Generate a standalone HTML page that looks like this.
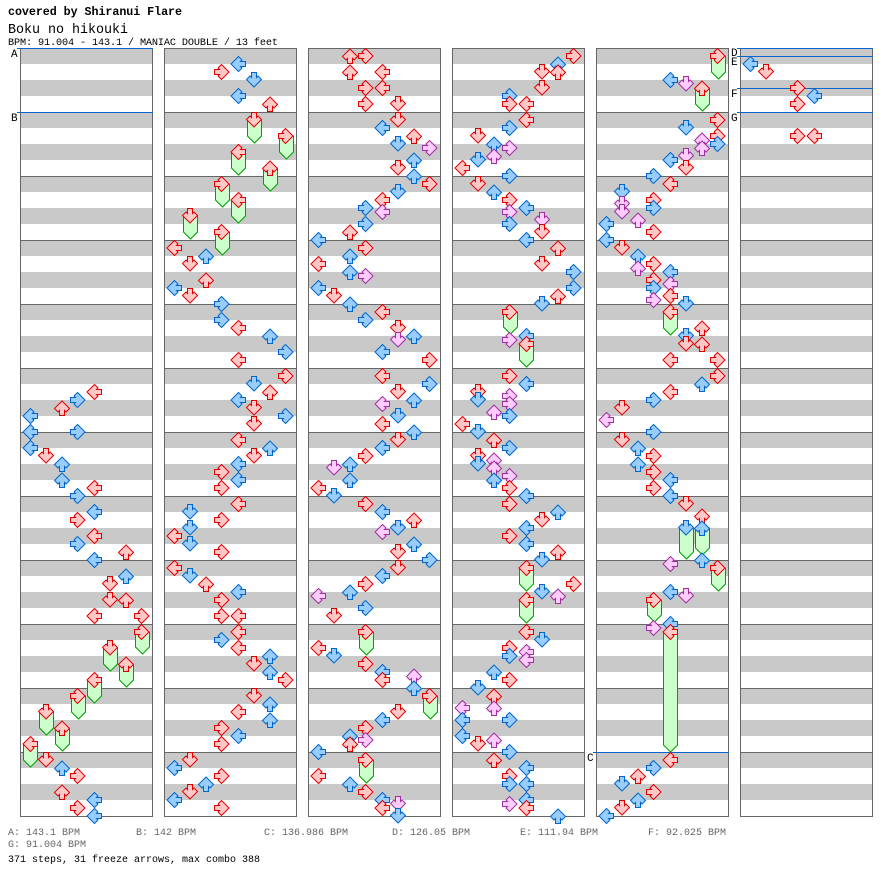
<!DOCTYPE html>
<html><head><meta charset="utf-8"><style>
html,body{margin:0;padding:0;background:#fff;width:896px;height:888px;overflow:hidden}
svg{display:block}
.r{fill:#ffc8c8;stroke:#e00000}
.b{fill:#99ccff;stroke:#0066cc}
.p{fill:#ffccff;stroke:#a030a0}
.f{fill:#ccffcc;stroke:#00a000}
use,path{stroke-width:1}
text{font-family:"Liberation Mono",monospace}
</style></head><body>
<svg width="896" height="888" viewBox="0 0 896 888" xmlns="http://www.w3.org/2000/svg">
<defs>
<pattern id="st" x="0" y="48" width="896" height="32" patternUnits="userSpaceOnUse"><rect x="0" y="0" width="896" height="16" fill="#c9c9c9"/></pattern>
<pattern id="ml" x="0" y="48" width="896" height="64" patternUnits="userSpaceOnUse"><rect x="0" y="0" width="896" height="1" fill="#666"/></pattern>
<path id="D" d="M5.5,0.5H10.5V5.5L12,4L15.5,7.5L8,15L0.5,7.5L4,4L5.5,5.5Z"/>
<path id="L" transform="rotate(90 8 8)" d="M5.5,0.5H10.5V5.5L12,4L15.5,7.5L8,15L0.5,7.5L4,4L5.5,5.5Z"/>
<path id="U" transform="rotate(180 8 8)" d="M5.5,0.5H10.5V5.5L12,4L15.5,7.5L8,15L0.5,7.5L4,4L5.5,5.5Z"/>
<path id="R" transform="rotate(270 8 8)" d="M5.5,0.5H10.5V5.5L12,4L15.5,7.5L8,15L0.5,7.5L4,4L5.5,5.5Z"/>
</defs>

<text x="8" y="15" font-size="11.7" font-weight="bold" textLength="174" fill="#000">covered by Shiranui Flare</text>
<text x="8" y="33" font-size="13.4" textLength="120" fill="#000">Boku no hikouki</text>
<text x="8" y="45" font-size="10.2" textLength="270" fill="#000">BPM: 91.004 - 143.1 / MANIAC DOUBLE / 13 feet</text>

<!-- columns -->
<g>
<rect x="20" y="48" width="133" height="768" fill="url(#st)"/>
<rect x="164" y="48" width="133" height="768" fill="url(#st)"/>
<rect x="308" y="48" width="133" height="768" fill="url(#st)"/>
<rect x="452" y="48" width="133" height="768" fill="url(#st)"/>
<rect x="596" y="48" width="133" height="768" fill="url(#st)"/>
<rect x="740" y="48" width="133" height="768" fill="url(#st)"/>
<rect x="20" y="48" width="133" height="769" fill="url(#ml)"/>
<rect x="164" y="48" width="133" height="769" fill="url(#ml)"/>
<rect x="308" y="48" width="133" height="769" fill="url(#ml)"/>
<rect x="452" y="48" width="133" height="769" fill="url(#ml)"/>
<rect x="596" y="48" width="133" height="769" fill="url(#ml)"/>
<rect x="740" y="48" width="133" height="769" fill="url(#ml)"/>
<g fill="none" stroke="#666">
<rect x="20.5" y="48.5" width="132" height="768"/>
<rect x="164.5" y="48.5" width="132" height="768"/>
<rect x="308.5" y="48.5" width="132" height="768"/>
<rect x="452.5" y="48.5" width="132" height="768"/>
<rect x="596.5" y="48.5" width="132" height="768"/>
<rect x="740.5" y="48.5" width="132" height="768"/>
</g>
</g>

<!-- BPM change lines -->
<g fill="#0a64d0">
<rect x="17" y="48" width="136" height="1"/>
<rect x="17" y="112" width="136" height="1"/>
<rect x="593" y="752" width="136" height="1"/>
<rect x="737" y="48" width="136" height="1"/>
<rect x="737" y="56" width="136" height="1"/>
<rect x="737" y="88" width="136" height="1"/>
<rect x="737" y="112" width="136" height="1"/>
</g>
<g font-size="11" fill="#000">
<text x="11" y="57">A</text>
<text x="11" y="121">B</text>
<text x="587" y="761">C</text>
<text x="731" y="56">D</text>
<text x="731" y="65">E</text>
<text x="731" y="97">F</text>
<text x="731" y="121">G</text>
</g>

<!-- Column 1 -->
<g transform="translate(22,0)">
<use href="#L" class="r" x="64" y="384"/>
<use href="#R" class="b" x="48" y="392"/>
<use href="#U" class="r" x="32" y="400"/>
<use href="#L" class="b" x="0" y="408"/>
<use href="#L" class="b" x="0" y="424"/>
<use href="#R" class="b" x="48" y="424"/>
<use href="#L" class="b" x="0" y="440"/>
<use href="#D" class="r" x="16" y="448"/>
<use href="#U" class="b" x="32" y="456"/>
<use href="#U" class="b" x="32" y="472"/>
<use href="#L" class="r" x="64" y="480"/>
<use href="#R" class="b" x="48" y="488"/>
<use href="#L" class="b" x="64" y="504"/>
<use href="#R" class="r" x="48" y="512"/>
<use href="#L" class="r" x="64" y="528"/>
<use href="#R" class="b" x="48" y="536"/>
<use href="#U" class="r" x="96" y="544"/>
<use href="#L" class="b" x="64" y="552"/>
<use href="#U" class="b" x="96" y="568"/>
<use href="#D" class="r" x="80" y="576"/>
<use href="#D" class="r" x="80" y="592"/>
<use href="#U" class="r" x="96" y="592"/>
<use href="#L" class="r" x="64" y="608"/>
<use href="#R" class="r" x="112" y="608"/>
<path class="f" d="M113.5,632H127.5V647L120.5,654L113.5,647Z"/>
<use href="#R" class="r" x="112" y="624"/>
<path class="f" d="M81.5,648H95.5V664L88.5,671L81.5,664Z"/>
<use href="#D" class="r" x="80" y="640"/>
<path class="f" d="M97.5,664H111.5V680L104.5,687L97.5,680Z"/>
<use href="#U" class="r" x="96" y="656"/>
<path class="f" d="M65.5,680H79.5V696L72.5,703L65.5,696Z"/>
<use href="#L" class="r" x="64" y="672"/>
<path class="f" d="M49.5,696H63.5V712L56.5,719L49.5,712Z"/>
<use href="#R" class="r" x="48" y="688"/>
<path class="f" d="M17.5,712H31.5V728L24.5,735L17.5,728Z"/>
<use href="#D" class="r" x="16" y="704"/>
<path class="f" d="M33.5,728H47.5V744L40.5,751L33.5,744Z"/>
<use href="#U" class="r" x="32" y="720"/>
<path class="f" d="M1.5,744H15.5V760L8.5,767L1.5,760Z"/>
<use href="#L" class="r" x="0" y="736"/>
<use href="#D" class="r" x="16" y="752"/>
<use href="#U" class="b" x="32" y="760"/>
<use href="#R" class="r" x="48" y="768"/>
<use href="#U" class="r" x="32" y="784"/>
<use href="#L" class="b" x="64" y="792"/>
<use href="#R" class="r" x="48" y="800"/>
<use href="#L" class="b" x="64" y="808"/>
</g>

<!-- Column 2 -->
<g transform="translate(166,0)">
<use href="#L" class="b" x="64" y="56"/>
<use href="#R" class="r" x="48" y="64"/>
<use href="#D" class="b" x="80" y="72"/>
<use href="#L" class="b" x="64" y="88"/>
<use href="#U" class="r" x="96" y="96"/>
<path class="f" d="M81.5,120H95.5V136L88.5,143L81.5,136Z"/>
<use href="#D" class="r" x="80" y="112"/>
<path class="f" d="M113.5,136H127.5V152L120.5,159L113.5,152Z"/>
<use href="#R" class="r" x="112" y="128"/>
<path class="f" d="M65.5,152H79.5V168L72.5,175L65.5,168Z"/>
<use href="#L" class="r" x="64" y="144"/>
<path class="f" d="M97.5,168H111.5V184L104.5,191L97.5,184Z"/>
<use href="#U" class="r" x="96" y="160"/>
<path class="f" d="M49.5,184H63.5V200L56.5,207L49.5,200Z"/>
<use href="#R" class="r" x="48" y="176"/>
<path class="f" d="M65.5,200H79.5V216L72.5,223L65.5,216Z"/>
<use href="#L" class="r" x="64" y="192"/>
<path class="f" d="M17.5,216H31.5V232L24.5,239L17.5,232Z"/>
<use href="#D" class="r" x="16" y="208"/>
<path class="f" d="M49.5,232H63.5V248L56.5,255L49.5,248Z"/>
<use href="#R" class="r" x="48" y="224"/>
<use href="#L" class="r" x="0" y="240"/>
<use href="#U" class="b" x="32" y="248"/>
<use href="#D" class="r" x="16" y="256"/>
<use href="#U" class="r" x="32" y="272"/>
<use href="#L" class="b" x="0" y="280"/>
<use href="#D" class="r" x="16" y="288"/>
<use href="#R" class="b" x="48" y="296"/>
<use href="#R" class="b" x="48" y="312"/>
<use href="#L" class="r" x="64" y="320"/>
<use href="#U" class="b" x="96" y="328"/>
<use href="#R" class="b" x="112" y="344"/>
<use href="#L" class="r" x="64" y="352"/>
<use href="#R" class="r" x="112" y="368"/>
<use href="#D" class="b" x="80" y="376"/>
<use href="#U" class="r" x="96" y="384"/>
<use href="#L" class="b" x="64" y="392"/>
<use href="#D" class="r" x="80" y="400"/>
<use href="#R" class="b" x="112" y="408"/>
<use href="#D" class="r" x="80" y="416"/>
<use href="#L" class="r" x="64" y="432"/>
<use href="#U" class="b" x="96" y="440"/>
<use href="#D" class="r" x="80" y="448"/>
<use href="#L" class="b" x="64" y="456"/>
<use href="#R" class="r" x="48" y="464"/>
<use href="#L" class="b" x="64" y="472"/>
<use href="#R" class="r" x="48" y="480"/>
<use href="#L" class="r" x="64" y="496"/>
<use href="#D" class="b" x="16" y="504"/>
<use href="#R" class="r" x="48" y="512"/>
<use href="#D" class="b" x="16" y="520"/>
<use href="#L" class="r" x="0" y="528"/>
<use href="#D" class="b" x="16" y="536"/>
<use href="#R" class="r" x="48" y="544"/>
<use href="#L" class="r" x="0" y="560"/>
<use href="#D" class="b" x="16" y="568"/>
<use href="#U" class="r" x="32" y="576"/>
<use href="#L" class="b" x="64" y="584"/>
<use href="#R" class="r" x="48" y="592"/>
<use href="#R" class="r" x="48" y="608"/>
<use href="#L" class="r" x="64" y="608"/>
<use href="#L" class="r" x="64" y="624"/>
<use href="#R" class="b" x="48" y="632"/>
<use href="#L" class="r" x="64" y="640"/>
<use href="#U" class="b" x="96" y="648"/>
<use href="#D" class="r" x="80" y="656"/>
<use href="#U" class="b" x="96" y="664"/>
<use href="#R" class="r" x="112" y="672"/>
<use href="#D" class="r" x="80" y="688"/>
<use href="#U" class="b" x="96" y="696"/>
<use href="#L" class="r" x="64" y="704"/>
<use href="#U" class="b" x="96" y="712"/>
<use href="#R" class="r" x="48" y="720"/>
<use href="#L" class="b" x="64" y="728"/>
<use href="#R" class="r" x="48" y="736"/>
<use href="#D" class="r" x="16" y="752"/>
<use href="#L" class="b" x="0" y="760"/>
<use href="#R" class="r" x="48" y="768"/>
<use href="#U" class="b" x="32" y="776"/>
<use href="#D" class="r" x="16" y="784"/>
<use href="#L" class="b" x="0" y="792"/>
<use href="#R" class="r" x="48" y="800"/>
</g>

<!-- Column 3 -->
<g transform="translate(310,0)">
<use href="#U" class="r" x="32" y="48"/>
<use href="#R" class="r" x="48" y="48"/>
<use href="#U" class="r" x="32" y="64"/>
<use href="#L" class="r" x="64" y="64"/>
<use href="#R" class="r" x="48" y="80"/>
<use href="#L" class="r" x="64" y="80"/>
<use href="#R" class="r" x="48" y="96"/>
<use href="#D" class="r" x="80" y="96"/>
<use href="#D" class="r" x="80" y="112"/>
<use href="#L" class="b" x="64" y="120"/>
<use href="#U" class="r" x="96" y="128"/>
<use href="#D" class="b" x="80" y="136"/>
<use href="#R" class="p" x="112" y="140"/>
<use href="#U" class="b" x="96" y="152"/>
<use href="#D" class="r" x="80" y="160"/>
<use href="#U" class="b" x="96" y="168"/>
<use href="#R" class="r" x="112" y="176"/>
<use href="#D" class="b" x="80" y="184"/>
<use href="#L" class="r" x="64" y="192"/>
<use href="#R" class="b" x="48" y="200"/>
<use href="#L" class="p" x="64" y="204"/>
<use href="#R" class="b" x="48" y="216"/>
<use href="#U" class="r" x="32" y="224"/>
<use href="#L" class="b" x="0" y="232"/>
<use href="#R" class="r" x="48" y="240"/>
<use href="#U" class="b" x="32" y="248"/>
<use href="#L" class="r" x="0" y="256"/>
<use href="#U" class="b" x="32" y="264"/>
<use href="#R" class="p" x="48" y="268"/>
<use href="#L" class="b" x="0" y="280"/>
<use href="#D" class="r" x="16" y="288"/>
<use href="#U" class="b" x="32" y="296"/>
<use href="#L" class="r" x="64" y="304"/>
<use href="#R" class="b" x="48" y="312"/>
<use href="#D" class="r" x="80" y="320"/>
<use href="#U" class="b" x="96" y="328"/>
<use href="#D" class="p" x="80" y="332"/>
<use href="#L" class="b" x="64" y="344"/>
<use href="#R" class="r" x="112" y="352"/>
<use href="#L" class="r" x="64" y="368"/>
<use href="#R" class="b" x="112" y="376"/>
<use href="#D" class="r" x="80" y="384"/>
<use href="#U" class="b" x="96" y="392"/>
<use href="#L" class="p" x="64" y="396"/>
<use href="#D" class="b" x="80" y="408"/>
<use href="#L" class="r" x="64" y="416"/>
<use href="#U" class="b" x="96" y="424"/>
<use href="#D" class="r" x="80" y="432"/>
<use href="#L" class="b" x="64" y="440"/>
<use href="#R" class="r" x="48" y="448"/>
<use href="#U" class="b" x="32" y="456"/>
<use href="#D" class="p" x="16" y="460"/>
<use href="#U" class="b" x="32" y="472"/>
<use href="#L" class="r" x="0" y="480"/>
<use href="#D" class="b" x="16" y="488"/>
<use href="#R" class="r" x="48" y="496"/>
<use href="#L" class="b" x="64" y="504"/>
<use href="#U" class="r" x="96" y="512"/>
<use href="#D" class="b" x="80" y="520"/>
<use href="#L" class="p" x="64" y="524"/>
<use href="#U" class="b" x="96" y="536"/>
<use href="#D" class="r" x="80" y="544"/>
<use href="#R" class="b" x="112" y="552"/>
<use href="#D" class="r" x="80" y="560"/>
<use href="#L" class="b" x="64" y="568"/>
<use href="#R" class="r" x="48" y="576"/>
<use href="#U" class="b" x="32" y="584"/>
<use href="#L" class="p" x="0" y="588"/>
<use href="#R" class="b" x="48" y="600"/>
<use href="#D" class="r" x="16" y="608"/>
<path class="f" d="M49.5,632H63.5V648L56.5,655L49.5,648Z"/>
<use href="#R" class="r" x="48" y="624"/>
<use href="#L" class="r" x="0" y="640"/>
<use href="#D" class="b" x="16" y="648"/>
<use href="#R" class="r" x="48" y="656"/>
<use href="#L" class="b" x="64" y="664"/>
<use href="#U" class="p" x="96" y="668"/>
<use href="#L" class="r" x="64" y="672"/>
<use href="#U" class="b" x="96" y="680"/>
<path class="f" d="M113.5,696H127.5V712L120.5,719L113.5,712Z"/>
<use href="#R" class="r" x="112" y="688"/>
<use href="#D" class="r" x="80" y="704"/>
<use href="#L" class="b" x="64" y="712"/>
<use href="#R" class="r" x="48" y="720"/>
<use href="#U" class="b" x="32" y="728"/>
<use href="#R" class="p" x="48" y="732"/>
<use href="#U" class="r" x="32" y="736"/>
<use href="#L" class="b" x="0" y="744"/>
<path class="f" d="M49.5,760H63.5V776L56.5,783L49.5,776Z"/>
<use href="#R" class="r" x="48" y="752"/>
<use href="#L" class="r" x="0" y="768"/>
<use href="#U" class="b" x="32" y="776"/>
<use href="#R" class="r" x="48" y="784"/>
<use href="#L" class="b" x="64" y="792"/>
<use href="#D" class="p" x="80" y="796"/>
<use href="#L" class="r" x="64" y="800"/>
<use href="#D" class="b" x="80" y="808"/>
</g>

<!-- Column 4 -->
<g transform="translate(454,0)">
<use href="#R" class="r" x="112" y="48"/>
<use href="#U" class="b" x="96" y="56"/>
<use href="#D" class="r" x="80" y="64"/>
<use href="#U" class="r" x="96" y="64"/>
<use href="#D" class="r" x="80" y="80"/>
<use href="#R" class="b" x="48" y="88"/>
<use href="#R" class="r" x="48" y="96"/>
<use href="#L" class="r" x="64" y="96"/>
<use href="#L" class="r" x="64" y="112"/>
<use href="#R" class="b" x="48" y="120"/>
<use href="#D" class="r" x="16" y="128"/>
<use href="#U" class="b" x="32" y="136"/>
<use href="#R" class="p" x="48" y="140"/>
<use href="#U" class="p" x="32" y="148"/>
<use href="#D" class="b" x="16" y="152"/>
<use href="#L" class="r" x="0" y="160"/>
<use href="#R" class="b" x="48" y="168"/>
<use href="#D" class="r" x="16" y="176"/>
<use href="#U" class="b" x="32" y="184"/>
<use href="#R" class="r" x="48" y="192"/>
<use href="#L" class="b" x="64" y="200"/>
<use href="#R" class="p" x="48" y="204"/>
<use href="#D" class="p" x="80" y="212"/>
<use href="#R" class="b" x="48" y="216"/>
<use href="#D" class="r" x="80" y="224"/>
<use href="#L" class="b" x="64" y="232"/>
<use href="#U" class="r" x="96" y="240"/>
<use href="#D" class="r" x="80" y="256"/>
<use href="#R" class="b" x="112" y="264"/>
<use href="#R" class="b" x="112" y="280"/>
<use href="#U" class="r" x="96" y="288"/>
<use href="#D" class="b" x="80" y="296"/>
<path class="f" d="M49.5,312H63.5V327L56.5,334L49.5,327Z"/>
<use href="#R" class="r" x="48" y="304"/>
<use href="#L" class="b" x="64" y="328"/>
<use href="#R" class="p" x="48" y="332"/>
<path class="f" d="M65.5,344H79.5V360L72.5,367L65.5,360Z"/>
<use href="#L" class="r" x="64" y="336"/>
<use href="#R" class="r" x="48" y="368"/>
<use href="#L" class="b" x="64" y="376"/>
<use href="#D" class="r" x="16" y="384"/>
<use href="#R" class="p" x="48" y="388"/>
<use href="#D" class="b" x="16" y="392"/>
<use href="#R" class="p" x="48" y="396"/>
<use href="#U" class="p" x="32" y="404"/>
<use href="#R" class="b" x="48" y="408"/>
<use href="#L" class="r" x="0" y="416"/>
<use href="#D" class="b" x="16" y="424"/>
<use href="#U" class="r" x="32" y="432"/>
<use href="#R" class="b" x="48" y="440"/>
<use href="#D" class="r" x="16" y="448"/>
<use href="#U" class="p" x="32" y="452"/>
<use href="#D" class="b" x="16" y="456"/>
<use href="#U" class="p" x="32" y="460"/>
<use href="#R" class="p" x="48" y="468"/>
<use href="#U" class="b" x="32" y="472"/>
<use href="#R" class="r" x="48" y="480"/>
<use href="#L" class="b" x="64" y="488"/>
<use href="#R" class="r" x="48" y="496"/>
<use href="#U" class="b" x="96" y="504"/>
<use href="#D" class="r" x="80" y="512"/>
<use href="#L" class="b" x="64" y="520"/>
<use href="#R" class="r" x="48" y="528"/>
<use href="#L" class="b" x="64" y="536"/>
<use href="#U" class="r" x="96" y="544"/>
<use href="#D" class="b" x="80" y="552"/>
<path class="f" d="M65.5,568H79.5V584L72.5,591L65.5,584Z"/>
<use href="#L" class="r" x="64" y="560"/>
<use href="#R" class="r" x="112" y="576"/>
<use href="#D" class="b" x="80" y="584"/>
<use href="#U" class="p" x="96" y="588"/>
<path class="f" d="M65.5,600H79.5V616L72.5,623L65.5,616Z"/>
<use href="#L" class="r" x="64" y="592"/>
<use href="#L" class="r" x="64" y="624"/>
<use href="#D" class="b" x="80" y="632"/>
<use href="#R" class="r" x="48" y="640"/>
<use href="#L" class="p" x="64" y="644"/>
<use href="#R" class="b" x="48" y="648"/>
<use href="#L" class="p" x="64" y="652"/>
<use href="#U" class="b" x="32" y="664"/>
<use href="#R" class="r" x="48" y="672"/>
<use href="#D" class="b" x="16" y="680"/>
<use href="#U" class="r" x="32" y="688"/>
<use href="#L" class="p" x="0" y="700"/>
<use href="#U" class="p" x="32" y="700"/>
<use href="#L" class="b" x="0" y="712"/>
<use href="#R" class="b" x="48" y="712"/>
<use href="#L" class="b" x="0" y="728"/>
<use href="#U" class="p" x="32" y="732"/>
<use href="#D" class="r" x="16" y="736"/>
<use href="#R" class="b" x="48" y="744"/>
<use href="#U" class="r" x="32" y="752"/>
<use href="#L" class="b" x="64" y="760"/>
<use href="#R" class="r" x="48" y="768"/>
<use href="#R" class="b" x="48" y="776"/>
<use href="#L" class="b" x="64" y="776"/>
<use href="#L" class="b" x="64" y="792"/>
<use href="#R" class="p" x="48" y="796"/>
<use href="#L" class="r" x="64" y="800"/>
<use href="#U" class="b" x="96" y="808"/>
</g>

<!-- Column 5 -->
<g transform="translate(598,0)">
<path class="f" d="M113.5,56H127.5V72L120.5,79L113.5,72Z"/>
<use href="#R" class="r" x="112" y="48"/>
<use href="#L" class="b" x="64" y="72"/>
<use href="#D" class="p" x="80" y="76"/>
<path class="f" d="M97.5,88H111.5V104L104.5,111L97.5,104Z"/>
<use href="#U" class="r" x="96" y="80"/>
<use href="#R" class="r" x="112" y="112"/>
<use href="#D" class="b" x="80" y="120"/>
<use href="#R" class="r" x="112" y="128"/>
<use href="#U" class="p" x="96" y="132"/>
<use href="#R" class="b" x="112" y="136"/>
<use href="#U" class="p" x="96" y="140"/>
<use href="#D" class="p" x="80" y="148"/>
<use href="#L" class="b" x="64" y="152"/>
<use href="#D" class="r" x="80" y="160"/>
<use href="#R" class="b" x="48" y="168"/>
<use href="#L" class="r" x="64" y="176"/>
<use href="#D" class="b" x="16" y="184"/>
<use href="#R" class="r" x="48" y="192"/>
<use href="#D" class="p" x="16" y="196"/>
<use href="#R" class="b" x="48" y="200"/>
<use href="#D" class="p" x="16" y="204"/>
<use href="#U" class="p" x="32" y="212"/>
<use href="#L" class="b" x="0" y="216"/>
<use href="#R" class="r" x="48" y="224"/>
<use href="#L" class="b" x="0" y="232"/>
<use href="#D" class="r" x="16" y="240"/>
<use href="#U" class="b" x="32" y="248"/>
<use href="#R" class="r" x="48" y="256"/>
<use href="#U" class="p" x="32" y="260"/>
<use href="#L" class="b" x="64" y="264"/>
<use href="#R" class="r" x="48" y="272"/>
<use href="#L" class="p" x="64" y="276"/>
<use href="#R" class="b" x="48" y="280"/>
<use href="#L" class="r" x="64" y="288"/>
<use href="#R" class="p" x="48" y="292"/>
<use href="#D" class="b" x="80" y="296"/>
<path class="f" d="M65.5,312H79.5V328L72.5,335L65.5,328Z"/>
<use href="#L" class="r" x="64" y="304"/>
<use href="#U" class="r" x="96" y="320"/>
<use href="#D" class="b" x="80" y="328"/>
<use href="#D" class="r" x="80" y="336"/>
<use href="#U" class="r" x="96" y="336"/>
<use href="#L" class="r" x="64" y="352"/>
<use href="#R" class="r" x="112" y="352"/>
<use href="#R" class="r" x="112" y="368"/>
<use href="#U" class="b" x="96" y="376"/>
<use href="#L" class="r" x="64" y="384"/>
<use href="#R" class="b" x="48" y="392"/>
<use href="#D" class="r" x="16" y="400"/>
<use href="#L" class="p" x="0" y="412"/>
<use href="#R" class="b" x="48" y="424"/>
<use href="#D" class="r" x="16" y="432"/>
<use href="#U" class="b" x="32" y="440"/>
<use href="#R" class="r" x="48" y="448"/>
<use href="#U" class="b" x="32" y="456"/>
<use href="#R" class="r" x="48" y="464"/>
<use href="#L" class="b" x="64" y="472"/>
<use href="#R" class="r" x="48" y="480"/>
<use href="#L" class="b" x="64" y="488"/>
<use href="#D" class="r" x="80" y="496"/>
<use href="#U" class="r" x="96" y="508"/>
<path class="f" d="M81.5,528H95.5V552L88.5,559L81.5,552Z"/>
<use href="#D" class="b" x="80" y="520"/>
<path class="f" d="M97.5,528H111.5V548L104.5,555L97.5,548Z"/>
<use href="#U" class="b" x="96" y="520"/>
<use href="#U" class="b" x="96" y="552"/>
<use href="#L" class="p" x="64" y="556"/>
<path class="f" d="M113.5,568H127.5V584L120.5,591L113.5,584Z"/>
<use href="#R" class="r" x="112" y="560"/>
<use href="#L" class="b" x="64" y="584"/>
<use href="#D" class="p" x="80" y="588"/>
<path class="f" d="M49.5,600H63.5V615L56.5,622L49.5,615Z"/>
<use href="#R" class="r" x="48" y="592"/>
<use href="#L" class="b" x="64" y="616"/>
<use href="#R" class="p" x="48" y="620"/>
<path class="f" d="M65.5,632H79.5V745L72.5,752L65.5,745Z"/>
<use href="#L" class="r" x="64" y="624"/>
<use href="#L" class="r" x="64" y="752"/>
<use href="#R" class="b" x="48" y="760"/>
<use href="#U" class="r" x="32" y="768"/>
<use href="#D" class="b" x="16" y="776"/>
<use href="#R" class="r" x="48" y="784"/>
<use href="#U" class="b" x="32" y="792"/>
<use href="#D" class="r" x="16" y="800"/>
<use href="#L" class="b" x="0" y="808"/>
</g>

<!-- Column 6 -->
<g transform="translate(742,0)">
<use href="#L" class="b" x="0" y="56"/>
<use href="#D" class="r" x="16" y="64"/>
<use href="#R" class="r" x="48" y="80"/>
<use href="#L" class="b" x="64" y="88"/>
<use href="#R" class="r" x="48" y="96"/>
<use href="#R" class="r" x="48" y="128"/>
<use href="#L" class="r" x="64" y="128"/>
</g>

<!-- footer -->
<g font-size="10" fill="#666">
<text x="8" y="835" textLength="72">A: 143.1 BPM</text>
<text x="136" y="835" textLength="60">B: 142 BPM</text>
<text x="264" y="835" textLength="84">C: 136.986 BPM</text>
<text x="392" y="835" textLength="78">D: 126.05 BPM</text>
<text x="520" y="835" textLength="78">E: 111.94 BPM</text>
<text x="648" y="835" textLength="78">F: 92.025 BPM</text>
<text x="8" y="847" textLength="78">G: 91.004 BPM</text>
</g>
<text x="8" y="862" font-size="10" fill="#000" textLength="252">371 steps, 31 freeze arrows, max combo 388</text>
</svg>
</body></html>
